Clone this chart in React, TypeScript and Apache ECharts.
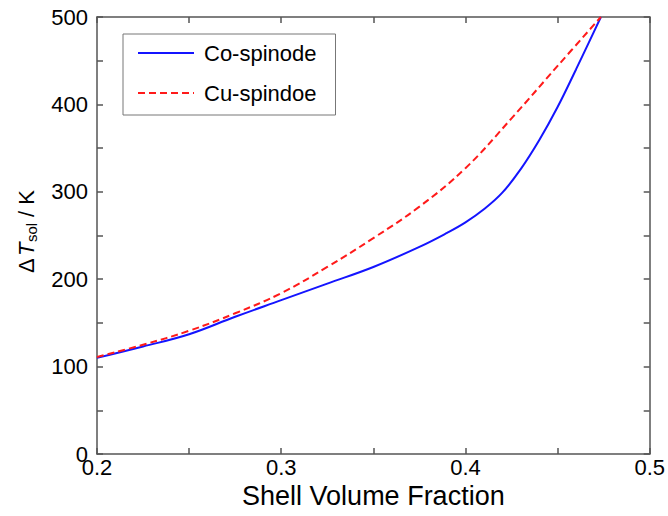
import React, { useEffect, useRef } from "react";
import * as echarts from "echarts";

const coX = [0.2, 0.225, 0.25, 0.275, 0.3, 0.325, 0.35, 0.375, 0.39, 0.4, 0.41, 0.42, 0.43, 0.44, 0.45, 0.46, 0.467, 0.4735];
const coY = [110, 123, 137, 157, 176, 195, 214, 237, 253, 265, 280, 299, 326, 359, 397, 440, 471, 500];
const cuX = [0.2, 0.225, 0.25, 0.275, 0.3, 0.325, 0.35, 0.375, 0.4, 0.425, 0.45, 0.4735];
const cuY = [111, 125, 141, 161, 184, 214, 247, 283, 327, 384, 444, 500];
const seriesNames = ["Co-spinode", "Cu-spindoe"];
const xTitle = "Shell Volume Fraction";

const FONT = "'Liberation Sans', Arial, sans-serif";
const AXIS_COLOR = "#555";

const mkLine = () => ({ show: true, onZero: false, lineStyle: { color: AXIS_COLOR, width: 1.5 } });
const mkTick = () => ({ show: true, inside: true, length: 6, interval: 0, lineStyle: { color: AXIS_COLOR, width: 1.5 } });

export default function App() {
  const ref = useRef<HTMLDivElement>(null);
  useEffect(() => {
    if (!ref.current) return;
    const chart = echarts.init(ref.current, undefined, { renderer: "svg" });
    const xFmt = (v: number) => {
      const t = v * 10;
      return Math.abs(t - Math.round(t)) < 1e-6 ? v.toFixed(1) : "";
    };
    const yFmt = (v: number) => (Math.round(v) % 100 === 0 ? String(Math.round(v)) : "");
    chart.setOption({
      animation: false,
      backgroundColor: "#fff",
      textStyle: { fontFamily: FONT },
      grid: { left: 97, right: 17, top: 17, bottom: 62 },
      legend: {
        data: seriesNames,
        orient: "vertical",
        left: 123,
        top: 34,
        padding: [8, 19, 11, 14],
        itemGap: 18,
        itemWidth: 56,
        itemHeight: 14,
        borderColor: "#777",
        borderWidth: 1,
        borderRadius: 0,
        backgroundColor: "#fff",
        itemStyle: { opacity: 0 },
        textStyle: { color: "#000", fontSize: 22, fontFamily: FONT, padding: [0, 0, 0, 5] },
      },
      xAxis: [
        {
          type: "value",
          min: 0.2,
          max: 0.5,
          interval: 0.05,
          position: "bottom",
          name: xTitle,
          nameLocation: "middle",
          nameGap: 27,
          nameTextStyle: { color: "#000", fontSize: 27, fontFamily: FONT },
          axisLine: mkLine(),
          axisTick: mkTick(),
          minorTick: { show: false },
          splitLine: { show: false },
          axisLabel: { color: "#000", fontSize: 22, fontFamily: FONT, margin: 2, formatter: xFmt, showMinLabel: true, showMaxLabel: true },
        },
        {
          type: "value",
          min: 0.2,
          max: 0.5,
          interval: 0.05,
          position: "top",
          axisLine: mkLine(),
          axisTick: mkTick(),
          minorTick: { show: false },
          splitLine: { show: false },
          axisLabel: { show: false },
        },
      ],
      yAxis: [
        {
          type: "value",
          min: 0,
          max: 500,
          interval: 50,
          position: "left",
          axisLine: mkLine(),
          axisTick: mkTick(),
          minorTick: { show: false },
          splitLine: { show: false },
          axisLabel: { color: "#000", fontSize: 22, fontFamily: FONT, margin: 9, formatter: yFmt, showMinLabel: true, showMaxLabel: true },
        },
        {
          type: "value",
          min: 0,
          max: 500,
          interval: 50,
          position: "right",
          axisLine: mkLine(),
          axisTick: mkTick(),
          minorTick: { show: false },
          splitLine: { show: false },
          axisLabel: { show: false },
        },
      ],
      graphic: [
        {
          type: "group",
          x: 26,
          y: 230,
          rotation: Math.PI / 2,
          children: [
            { type: "text", x: -43, y: 0, style: { text: "Δ", fontSize: 22, fontFamily: FONT, fill: "#000", verticalAlign: "middle", align: "left" } },
            { type: "text", x: -26, y: 0, style: { text: "T", fontSize: 22, fontStyle: "italic", fontFamily: FONT, fill: "#000", verticalAlign: "middle", align: "left" } },
            { type: "text", x: -12, y: 5, style: { text: "sol", fontSize: 15, fontFamily: FONT, fill: "#000", verticalAlign: "middle", align: "left" } },
            { type: "text", x: 7, y: 0, style: { text: " / K", fontSize: 22, fontFamily: FONT, fill: "#000", verticalAlign: "middle", align: "left" } },
          ],
        },
      ],
      series: [
        {
          name: seriesNames[0],
          type: "line",
          xAxisIndex: 0,
          yAxisIndex: 0,
          data: coX.map((x, i) => [x, coY[i]]),
          smooth: 0.4,
          symbol: "none",
          lineStyle: { color: "#1414ff", width: 2 },
          itemStyle: { color: "#1414ff" },
          z: 3,
        },
        {
          name: seriesNames[1],
          type: "line",
          xAxisIndex: 0,
          yAxisIndex: 0,
          data: cuX.map((x, i) => [x, cuY[i]]),
          smooth: 0.4,
          symbol: "none",
          lineStyle: { color: "#ff1a1a", width: 2, type: [7, 4] },
          itemStyle: { color: "#ff1a1a" },
          z: 4,
        },
      ],
    });
    return () => chart.dispose();
  }, []);
  return <div ref={ref} style={{ position: "fixed", left: 0, top: 0, width: 668, height: 516 }} />;
}
